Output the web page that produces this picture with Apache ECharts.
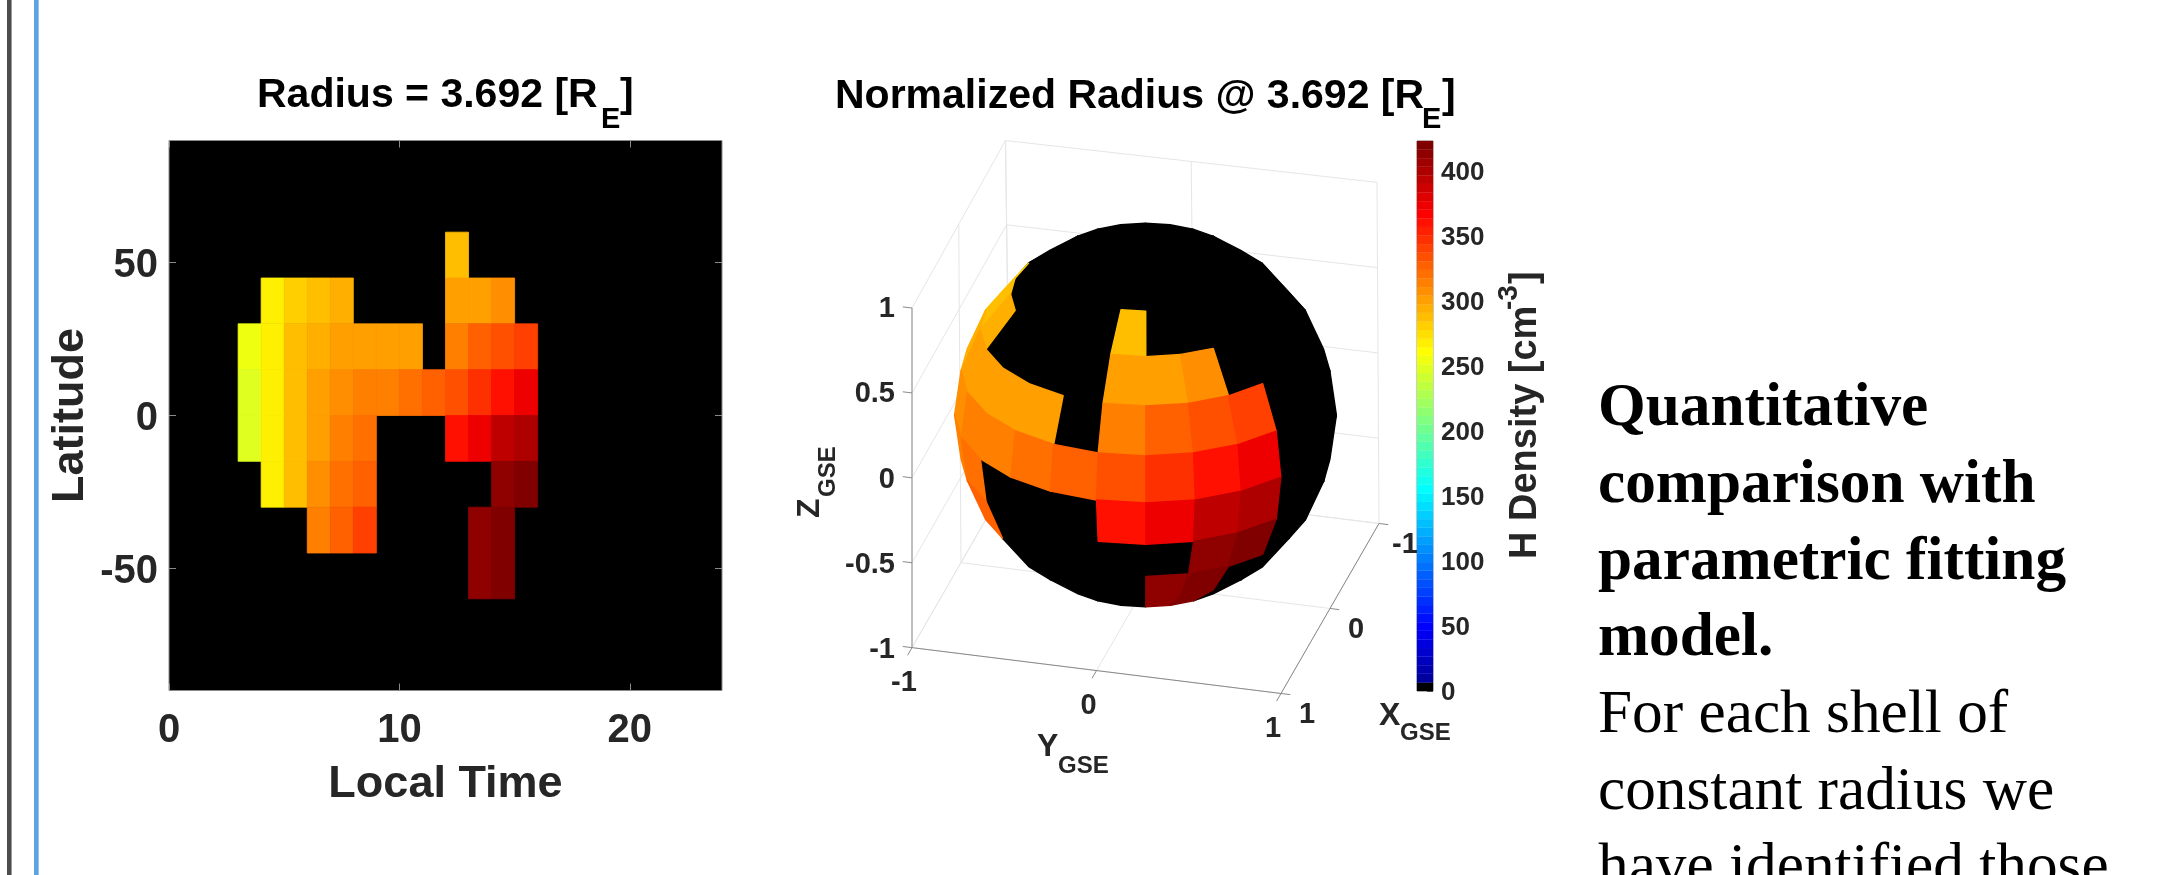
<!DOCTYPE html>
<html><head><meta charset="utf-8">
<style>html,body{margin:0;padding:0;background:#fff;overflow:hidden}#c{width:2157px;height:875px}</style>
<script src="https://cdn.jsdelivr.net/npm/echarts@6/dist/echarts.min.js"></script>
</head><body><div id="c"></div>
<script>
// ---- data (H density, cm^-3); rows are named by their lower latitude edge
const hours = [3,4,5,6,7,8,9,10,11,12,13,14,15];
const lat45  = [0,0,0,0,0,0,0,0,0,287,0,0,0];
const lat30  = [0,268,281,287,294,0,0,0,0,301,301,307,0];
const lat15  = [255,268,287,294,301,301,301,301,0,314,327,334,340];
const lat0   = [248,268,287,301,307,314,314,320,327,334,347,360,373];
const latM15 = [248,268,287,301,314,320,0,0,0,360,373,393,400];
const latM30 = [0,268,287,307,320,327,0,0,0,0,0,413,420];
const latM45 = [0,0,0,314,327,340,0,0,0,0,413,420,0];
const latM60 = [0,0,0,0,0,0,0,0,0,0,413,420,0];
const rowLats = [45,30,15,0,-15,-30,-45,-60];
const rows = [lat45,lat30,lat15,lat0,latM15,latM30,latM45,latM60];

const ltTicks = [0,10,20];
const latTicks = [-50,0,50];
const cbTicks = [0,50,100,150,200,250,300,350,400];
const xyTicks = [-1,0,1];
const zTicks = [-1,-0.5,0,0.5,1];
const cbMax = 423;
const title1 = 'Radius = 3.692 [R';
const title2 = 'Normalized Radius @ 3.692 [R';
const bodyBold = ['Quantitative','comparison with','parametric fitting','model.'];
const bodyPlain = ['For each shell of','constant radius we','have identified those'];

// ---- MATLAB jet(64), first level black
function jet64(){
  const m=64,n=16,u=[];
  for(let k=1;k<=n;k++)u.push(k/n);
  for(let k=0;k<n-1;k++)u.push(1);
  for(let k=n;k>=1;k--)u.push(k/n);
  const c=[];for(let i=0;i<m;i++)c.push([0,0,0]);
  u.forEach((val,k)=>{
    const g=8+k, r=g+n, b=g-n;
    if(r<m)c[r][0]=val;
    if(g<m)c[g][1]=val;
    if(b>=0&&b<m)c[b][2]=val;
  });
  c[0]=[0,0,0];
  return c.map(a=>'rgb('+a.map(v=>Math.round(v*255)).join(',')+')');
}
const levels = jet64();
const step = cbMax/64;
const pieces = levels.map((color,i)=>({gte:i*step,lt:(i+1)*step+(i==63?1:0),color}));

// ---- data tables
const mapCells=[];
rows.forEach((r,ri)=>r.forEach((v,ci)=>{ if(v>0) mapCells.push([hours[ci],rowLats[ri],v]); }));
function valueAt(h,lat){
  const ri=rowLats.indexOf(lat), ci=hours.indexOf(h);
  return (ri<0||ci<0)?0:rows[ri][ci];
}
const sphereCells=[];
for(let h=0;h<24;h++)for(let lat=-90;lat<90;lat+=15)sphereCells.push([h,lat,valueAt(h,lat)]);
sphereCells.sort((a,b)=>a[2]-b[2]);
const barCells=levels.map((c,i)=>[i*step,(i+1)*step,(i+0.5)*step]);

// ---- orthographic projection of the GSE box (view of the MATLAB axes)
const P=[[-0.2565,0.966,0],[-0.445,-0.12,0.893]];
const proj=(x,y,z)=>[P[0][0]*x+P[0][1]*y, P[1][0]*x+P[1][1]*y+P[1][2]*z];
// the box recedes slightly towards its far upper corner
function projBox(x,y,z){
  const p=proj(x,y,z), up=(z+1)/2, far=(1-x)/2, side=(1-y)/2;
  p[0]-=up*far*(2+2.5*side)/191;
  p[1]-=up*side*(1.5+2.5*far)/191;
  return p;
}
function sph(h,lat){
  const l=(h-12)*Math.PI/12, p=lat*Math.PI/180;
  return proj(Math.cos(p)*Math.cos(l),Math.cos(p)*Math.sin(l),Math.sin(p));
}
// wire segments: [x1,y1,z1,x2,y2,z2,isAxis]
const wire=[];
zTicks.forEach(z=>{
  wire.push([-1,-1,z,-1,1,z,0]);
  wire.push([1,-1,z,-1,-1,z,0]);
  wire.push([1,-1,z,1,-1.05,z,1]);
});
xyTicks.forEach(t=>{
  wire.push([-1,t,-1,-1,t,1,0]);
  wire.push([-1,t,-1,1,t,-1,0]);
  wire.push([t,-1,-1,t,-1,1,0]);
  wire.push([t,-1,-1,t,1,-1,0]);
  wire.push([1,t,-1,1.09,t,-1,1]);
  wire.push([t,1,-1,t,1.05,-1,1]);
});
wire.push([1,-1,-1,1,1,-1,1],[1,1,-1,-1,1,-1,1],[1,-1,-1,1,-1,1,1]);
wire.sort((a,b)=>a[6]-b[6]);
// 3D tick labels: [x,y,z,text,dx,dy,align]
const tickLabels=[];
zTicks.forEach(z=>tickLabels.push([1,-1,z,String(z),-17,2.5,'right']));
xyTicks.forEach(t=>tickLabels.push([1,t,-1,String(t),-8,35.5,'center']));
xyTicks.forEach(t=>tickLabels.push([t,1,-1,String(t),26,22,'center']));

// ---- free texts
const sans='"Liberation Sans",Arial,sans-serif', serif='"Liberation Serif","Times New Roman",serif';
function T(text,x,base,fs,o){
  o=o||{};
  const rot=o.rot?Math.PI/2:0;
  const off=0.255*fs;
  return {type:'text',silent:true,rotation:rot,
    x:o.rot?x-off:x, y:o.rot?base:base-off,
    style:{text,font:(o.weight||'bold')+' '+fs+'px '+(o.family||sans),fill:o.fill||'#262626',
      align:o.align||'left',verticalAlign:'middle'}};
}
const graphics=[
 {type:'rect',silent:true,shape:{x:7,y:0,width:4,height:875},style:{fill:'#4b4e4d'}},
 {type:'rect',silent:true,shape:{x:11,y:0,width:1,height:875},style:{fill:'#9a9a9a'}},
 {type:'rect',silent:true,shape:{x:34,y:0,width:4,height:875},style:{fill:'#5fa3de'}},
 {type:'rect',silent:true,shape:{x:38,y:0,width:1,height:875},style:{fill:'#8cc4f3'}},
 T(title1,257,106,41,{fill:'#000'}), T('E',601,127,29,{fill:'#000'}), T(']',620,106,41,{fill:'#000'}),
 T(title2,835,107,41,{fill:'#000'}), T('E',1422,127,29,{fill:'#000'}), T(']',1442,107,41,{fill:'#000'}),
 T('X',1379,724,32), T('GSE',1400,739,24),
 T('Y',1037,755,32), T('GSE',1058,772,24),
 T('Z',818,518,32,{rot:1}), T('GSE',834,497,24,{rot:1}),
 T('H Density [cm',1535,559,38,{rot:1}), T('-3',1516,310,28,{rot:1}), T(']',1535,284,38,{rot:1})
];
bodyBold.forEach((s,i)=>graphics.push(T(s,1598,425+i*76.7,61.3,{family:serif,fill:'#000'})));
bodyPlain.forEach((s,i)=>graphics.push(T(s,1598,732+i*76.5,61.3,{family:serif,fill:'#000',weight:'normal'})));

// ---- axes
const axFont={fontFamily:sans,fontWeight:'bold',color:'#262626'};
const tickGrey={lineStyle:{color:'#8a8a8a',width:1}};
const hidden={show:false,min:-2,max:2,type:'value',splitLine:{show:false}};
const noLine={show:false,onZero:false};
const tag=v=>'{a|'+v+'}';
const option={
 animation:false,backgroundColor:'#fff',
 grid:[
  {left:169,top:140.5,width:553,height:550,show:true,backgroundColor:'#000',borderColor:'#8a8a8a',borderWidth:1},
  {left:763.5,top:33,width:764,height:764},
  {left:1417,top:141,width:16,height:550,show:true,borderColor:'#9a9a9a',borderWidth:1}
 ],
 xAxis:[
  {gridIndex:0,type:'value',min:0,max:24,splitLine:{show:false},axisLine:noLine,
   axisTick:{inside:true,length:7,customValues:ltTicks,...tickGrey},
   axisLabel:{customValues:ltTicks,fontSize:40,margin:20,...axFont},
   name:'Local Time',nameLocation:'middle',nameGap:72,nameTextStyle:{fontSize:45,...axFont}},
  {gridIndex:0,type:'value',position:'top',min:0,max:24,splitLine:{show:false},axisLine:noLine,
   axisTick:{inside:true,length:7,customValues:ltTicks,...tickGrey},axisLabel:{show:false}},
  {gridIndex:1,...hidden},
  {gridIndex:2,type:'value',min:0,max:1,show:false,splitLine:{show:false}}
 ],
 yAxis:[
  {gridIndex:0,type:'value',min:-90,max:90,splitLine:{show:false},axisLine:noLine,
   axisTick:{inside:true,length:7,customValues:latTicks,...tickGrey},
   axisLabel:{customValues:latTicks,margin:11,formatter:tag,
     rich:{a:{fontSize:40,padding:[7,0,0,0],...axFont}}},
   name:'Latitude',nameLocation:'middle',nameGap:76,nameRotate:90,nameTextStyle:{fontSize:45,...axFont}},
  {gridIndex:0,type:'value',position:'right',min:-90,max:90,splitLine:{show:false},axisLine:noLine,
   axisTick:{inside:true,length:7,customValues:latTicks,...tickGrey},axisLabel:{show:false}},
  {gridIndex:1,...hidden},
  {gridIndex:2,type:'value',position:'right',min:0,max:cbMax,splitLine:{show:false},axisLine:noLine,
   axisTick:{inside:true,length:6,customValues:cbTicks,lineStyle:{color:'#555',width:1}},
   axisLabel:{customValues:cbTicks,margin:8,formatter:tag,
     rich:{a:{fontSize:26,padding:[3,0,0,0],...axFont}}}}
 ],
 visualMap:{type:'piecewise',show:false,seriesIndex:[0,2,4],dimension:2,pieces},
 graphic:graphics,
 series:[
  {type:'custom',xAxisIndex:0,yAxisIndex:0,data:mapCells,silent:true,
   renderItem(p,api){
    const a=api.coord([api.value(0),api.value(1)+15]),b=api.coord([api.value(0)+1,api.value(1)]);
    const c=api.visual('color');
    return {type:'rect',shape:{x:a[0],y:a[1],width:b[0]-a[0],height:b[1]-a[1]},style:{fill:c,stroke:c,lineWidth:0.8}};
   }},
  {type:'custom',xAxisIndex:2,yAxisIndex:2,data:wire.map((w,i)=>[i]),silent:true,
   renderItem(p,api){
    const w=wire[p.dataIndex],a=api.coord(projBox(w[0],w[1],w[2])),b=api.coord(projBox(w[3],w[4],w[5]));
    return {type:'line',shape:{x1:a[0],y1:a[1],x2:b[0],y2:b[1]},style:{stroke:w[6]?'#8a8a8a':'#e6e6e6',lineWidth:1}};
   }},
  {type:'custom',xAxisIndex:2,yAxisIndex:2,data:sphereCells,silent:true,
   renderItem(p,api){
    const h=api.value(0),lat=api.value(1);
    const q=[sph(h,lat),sph(h+1,lat),sph(h+1,lat+15),sph(h,lat+15)];
    let area=0;
    q.forEach((c,i)=>{const d=q[(i+1)%4];area+=c[0]*d[1]-d[0]*c[1];});
    if(area<=1e-9)return null;
    const color=api.visual('color');
    return {type:'polygon',shape:{points:q.map(c=>api.coord(c))},style:{fill:color,stroke:color,lineWidth:1.4,lineJoin:'round'}};
   }},
  {type:'custom',xAxisIndex:2,yAxisIndex:2,data:tickLabels.map((w,i)=>[i]),silent:true,
   renderItem(p,api){
    const t=tickLabels[p.dataIndex],a=api.coord(proj(t[0],t[1],t[2]));
    return {type:'text',style:{x:a[0]+t[4],y:a[1]+t[5],text:t[3],font:'bold 29px '+sans,fill:'#262626',align:t[6],verticalAlign:'middle'}};
   }},
  {type:'custom',xAxisIndex:3,yAxisIndex:3,data:barCells.map(b=>[0,b[0],b[2],b[1]]),silent:true,
   renderItem(p,api){
    const a=api.coord([0,api.value(3)]),b=api.coord([1,api.value(1)]);
    const c=api.visual('color');
    return {type:'rect',shape:{x:a[0],y:a[1],width:b[0]-a[0],height:b[1]-a[1]},style:{fill:c,stroke:c,lineWidth:0.3}};
   }}
 ]
};
const chart=echarts.init(document.getElementById('c'),null,{renderer:'canvas',width:2157,height:875});
chart.setOption(option);
</script></body></html>
